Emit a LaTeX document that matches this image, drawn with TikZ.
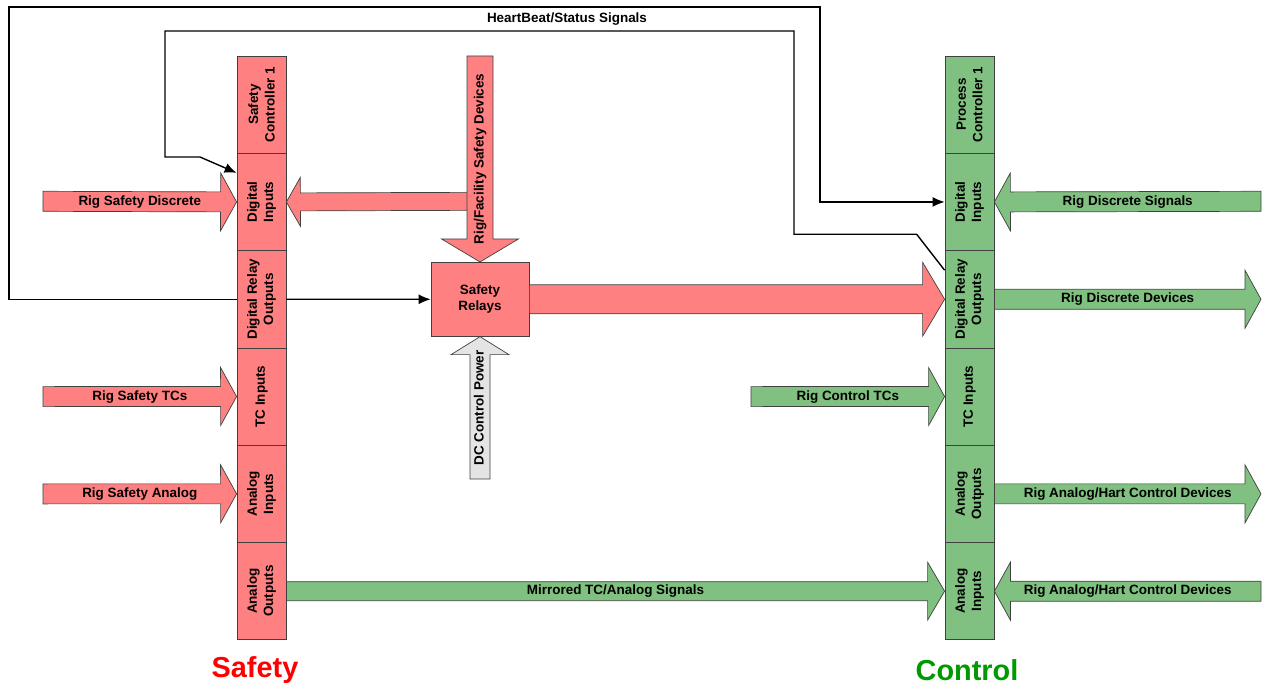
\documentclass[tikz,border=0pt]{standalone}
\usepackage{fontspec}
\setmainfont{Liberation Sans}
\usepackage{tikz}
\usetikzlibrary{calc, arrows.meta, positioning}
\definecolor{sred}{RGB}{255, 128, 128}
\definecolor{cgreen}{RGB}{128, 192, 128}
\definecolor{cdark}{RGB}{0, 153, 0}
\definecolor{dcgray}{RGB}{228, 228, 228}

% block arrow: tail, tip, label options, shaft half, head half, head length, style, text
\newcommand{\fatarrow}[8]{%
	\coordinate (fah) at ($(#2)!#6!(#1)$);
	\draw[#7] ($(#1)!#4!90:(#2)$) -- ($(fah)!#4!90:(#2)$) -- ($(fah)!#5!90:(#2)$) -- (#2)
		-- ($(fah)!#5!-90:(#2)$) -- ($(fah)!#4!-90:(#2)$) -- ($(#1)!#4!-90:(#2)$) -- cycle;
	\path (#1) -- (#2) node[midway, lbl, text height=9.5bp, text depth=2.5bp, #3] {#8};
}

\begin{document}
\begin{tikzpicture}[x=1bp, y=-1bp,
		lbl/.style={font=\bfseries\fontsize{13.5}{16.5}\selectfont, align=center, inner sep=0pt},
		slot/.style={draw=black!75, line width=0.8pt, minimum width=49bp, minimum height=97.3bp, inner sep=0pt},
		blk/.style={draw=black!75, line width=0.7pt},
		sig/.style={draw=black, line width=1.4pt, -{Latex[length=12pt, width=10pt]}},
		title/.style={font=\bfseries\fontsize{29}{32}\selectfont, inner sep=0pt}]
	
	\useasboundingbox (0,0) rectangle (1269,686);
	
	% safety controller
	\foreach \nm/\txt [count=\i] in {sc1/{Safety\\Controller 1}, sdi/{Digital\\Inputs}, sdro/{Digital Relay\\Outputs}, stc/{TC Inputs}, sai/{Analog\\Inputs}, sao/{Analog\\Outputs}}
		\node[slot, fill=sred, label={[lbl, rotate=90]center:\txt}] (\nm) at (261.5, {56+97.3*\i-48.65}) {};
	
	% process controller
	\foreach \nm/\txt [count=\i] in {pc1/{Process\\Controller 1}, cdi/{Digital\\Inputs}, cdro/{Digital Relay\\Outputs}, ctc/{TC Inputs}, cao/{Analog\\Outputs}, cai/{Analog\\Inputs}}
		\node[slot, fill=cgreen, label={[lbl, rotate=90]center:\txt}] (\nm) at (969.5, {56+97.3*\i-48.65}) {};
	
	\node[blk, fill=sred, minimum width=98bp, minimum height=74bp, lbl] (relays) at (480,299.3) {Safety\\Relays};
	
	% free ends
	\coordinate (rsd) at (43,201.3);
	\coordinate (rst) at (43,396.6);
	\coordinate (rsa) at (43,493.9);
	\coordinate (rfs) at (480,56);
	\coordinate (rfh) at (480,201.3);
	\coordinate (dcp) at (480,479);
	\coordinate (rds) at (1261,201.3);
	\coordinate (rdd) at (1261,299.3);
	\coordinate (rct) at (751,396.6);
	\coordinate (rao) at (1261,493.9);
	\coordinate (rai) at (1261,591.2);
	
	% safety side
	\fatarrow{rsd}{sdi.west}{}{10bp}{29bp}{16bp}{blk, fill=sred}{Rig Safety Discrete}
	\fatarrow{rst}{stc.west}{}{10bp}{29bp}{16bp}{blk, fill=sred}{Rig Safety TCs}
	\fatarrow{rsa}{sai.west}{}{10bp}{29bp}{16bp}{blk, fill=sred}{Rig Safety Analog}
	\fatarrow{rfh}{sdi.east}{}{9bp}{24.5bp}{14bp}{blk, fill=sred}{}
	\fatarrow{rfs}{relays.north}{rotate=90}{13bp}{38.5bp}{23bp}{blk, fill=sred}{Rig/Facility Safety Devices}
	\fatarrow{dcp}{relays.south}{rotate=90}{10bp}{29bp}{18bp}{blk, fill=dcgray}{DC Control Power}
	\fatarrow{relays.east}{cdro.west}{}{14.5bp}{37bp}{22bp}{blk, fill=sred}{}
	\fatarrow{sao.east}{cai.west}{}{9.5bp}{29bp}{17bp}{blk, fill=cgreen}{Mirrored TC/Analog Signals}
	
	% control side
	\fatarrow{rds}{cdi.east}{}{10bp}{29bp}{16bp}{blk, fill=cgreen}{Rig Discrete Signals}
	\fatarrow{cdro.east}{rdd}{}{10bp}{29bp}{16bp}{blk, fill=cgreen}{Rig Discrete Devices}
	\fatarrow{rct}{ctc.west}{}{10bp}{29bp}{16bp}{blk, fill=cgreen}{Rig Control TCs}
	\fatarrow{cao.east}{rao}{}{10bp}{29bp}{16bp}{blk, fill=cgreen}{Rig Analog/Hart Control Devices}
	\fatarrow{rai}{cai.east}{}{10bp}{29bp}{16bp}{blk, fill=cgreen}{Rig Analog/Hart Control Devices}
	
	% signal lines
	\coordinate (hbl) at (9,7);
	\coordinate (hbr) at (820,7);
	\draw[sig] (sdro.east) -- (relays.west);
	\draw[sig] (sdro.west) -| (hbl) -- (hbr) |- (cdi.west);
	\node[lbl] (hb) at (567,19) {HeartBeat/Status Signals};
	\draw[sig] ($(cdro.north west)+(0,20)$) -- ++(-28,-36) -| (794,31) -| (165,157) -- ++(35,0) -- ($(sdi.north west)+(0,20)$);
	
	\node[title, text=red] (stitle) at (255,670) {Safety};
	\node[title, text=cdark] (ctitle) at (967,670) {Control};
	
\end{tikzpicture}
\end{document}
